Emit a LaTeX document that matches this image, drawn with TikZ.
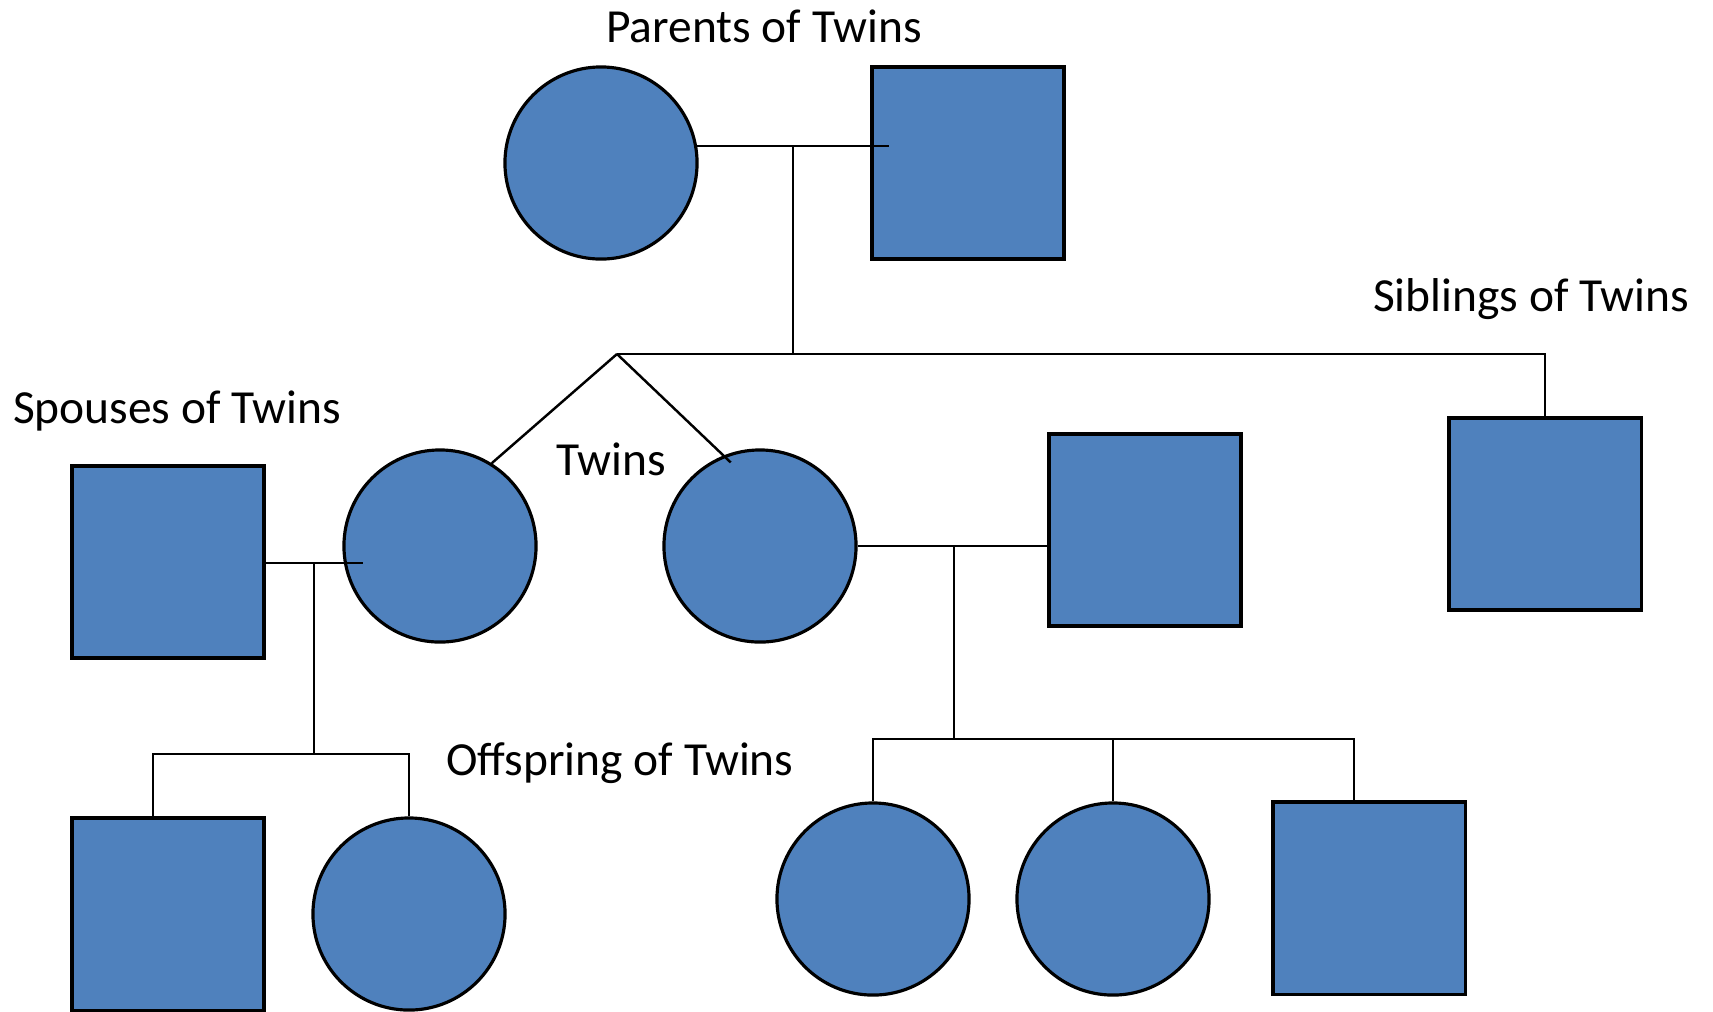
\documentclass[tikz,border=0pt]{standalone}
\usepackage{fontspec}
\setmainfont{Carlito}
\usepackage{tikz}
\usetikzlibrary{positioning,calc}
\definecolor{pedBlue}{RGB}{79,129,189}
\definecolor{pedLine}{RGB}{0,0,0}

\begin{document}
\begin{tikzpicture}[
    x=0.01cm, y=-0.01cm,
    male/.style={rectangle, draw=pedLine, fill=pedBlue, line width=0.9pt, minimum size=1.92cm, inner sep=0pt},
    female/.style={circle, draw=pedLine, fill=pedBlue, line width=0.9pt, minimum size=1.92cm, inner sep=0pt},
    famline/.style={draw=pedLine, line width=0.7pt},
    lbl/.style={font=\fontsize{13.5}{16}\selectfont, inner sep=0pt}
]
\useasboundingbox (0,0) rectangle (1713,1011);
\clip (0,0) rectangle (1713,1011);
% parents
\node[female] (mother) at (601,163) {};
\node[male] (father) at (968,163) {};
% twins and sibling
\node[female] (twinA) at (440,546) {};
\node[female] (twinB) at (760,546) {};
\node[male] (sibling) at (1545,514) {};
% spouses
\node[male] (spouseA) at (168,562) {};
\node[male] (spouseB) at (1145,530) {};
% offspring
\node[male] (kidA) at (168,914) {};
\node[female] (kidB) at (409,914) {};
\node[female] (kidC) at (873,899) {};
\node[female] (kidD) at (1113,899) {};
\node[male] (kidE) at (1369,898) {};
% labels
\node[lbl] (lParents) at (764,26) {Parents of Twins};
\node[lbl] (lSiblings) at (1531,299) {Siblings of Twins};
\node[lbl] (lSpouses) at (177,411) {Spouses of Twins};
\node[lbl] (lTwins) at (611,459) {Twins};
\node[lbl] (lOffspring) at (620,763) {Offspring of Twins};
% junctions
\coordinate (pmid) at (793,145);
\coordinate (apex) at (617,354);
\coordinate (amid) at (314,563);
\coordinate (abar) at (314,754);
\coordinate (bmid) at (954,546);
\coordinate (bbar) at (954,739);
\coordinate (kidAtop) at ([xshift=-0.15cm]kidA.north);
\coordinate (kidEtop) at ([xshift=-0.15cm]kidE.north);
% parents
\draw[famline] (mother.10) -- ++(192,0);
\draw[famline] (pmid) -- (pmid |- apex);
\draw[famline] (apex) -- (sibling.north |- apex) -- (sibling.north);
\draw[famline] (apex) -- (twinA.58);
\draw[famline, shorten >=-0.1cm] (apex) -- (twinB.112);
% left twin family
\draw[famline] (spouseA.east |- amid) -- ++(97,0);
\draw[famline] (amid) -- (abar);
\draw[famline] (kidAtop) -- (kidAtop |- abar) -- (kidB.north |- abar) -- (kidB.north);
% right twin family
\draw[famline] (twinB.east) -- (spouseB.west |- twinB.east);
\draw[famline] (bmid) -- (bbar);
\draw[famline] (kidC.north) -- (kidC.north |- bbar) -- (kidEtop |- bbar) -- (kidEtop);
\draw[famline] (kidD.north) -- (kidD.north |- bbar);
\end{tikzpicture}
\end{document}
